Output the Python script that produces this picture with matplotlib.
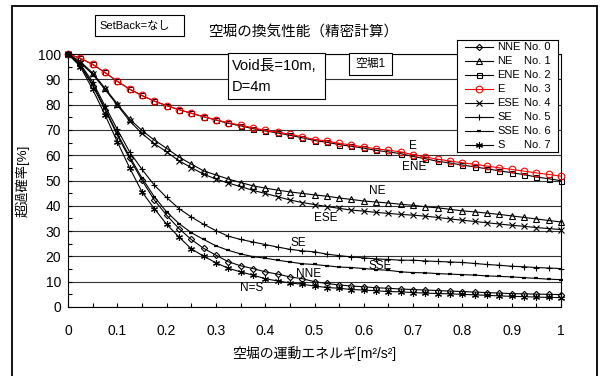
import matplotlib
matplotlib.use('Agg')
import matplotlib.pyplot as plt
from matplotlib.patches import Rectangle

plt.rcParams['font.family'] = ['Liberation Sans', 'Noto Sans CJK JP', 'DejaVu Sans']

# x values (kinetic energy of the void) and exceedance probability per direction
x = [0, 0.025, 0.05, 0.075, 0.1, 0.125, 0.15, 0.175, 0.2, 0.225, 0.25, 0.275, 0.3,
     0.325, 0.35, 0.375, 0.4, 0.425, 0.45, 0.475, 0.5, 0.525, 0.55, 0.575, 0.6,
     0.625, 0.65, 0.675, 0.7, 0.725, 0.75, 0.775, 0.8, 0.825, 0.85, 0.875, 0.9,
     0.925, 0.95, 0.975, 1.0]

nne = [100, 95.5, 87.5, 78.0, 67.9, 58.7, 50.1, 42.3, 36.3, 31.0, 26.7, 23.2, 20.5,
       17.9, 16.3, 15.2, 13.9, 13.0, 11.9, 11.2, 10.0, 9.3, 8.7, 8.3, 8.0, 7.6, 7.4,
       7.1, 6.9, 6.7, 6.5, 6.3, 6.1, 5.9, 5.7, 5.5, 5.3, 5.2, 5.1, 5.0, 4.9]
ne = [100, 97.0, 92.5, 86.5, 80.3, 74.3, 69.8, 66.0, 62.7, 59.3, 56.5, 53.8, 52.2,
      50.6, 49.2, 47.9, 47.0, 46.2, 45.5, 44.9, 44.3, 43.8, 43.1, 42.5, 41.9, 41.5,
      41.1, 40.6, 40.2, 39.6, 39.2, 38.6, 38.0, 37.6, 37.1, 36.6, 36.0, 35.4, 34.8,
      34.2, 33.6]
ene = [100, 98.3, 95.9, 92.7, 89.2, 86.1, 83.6, 81.4, 79.6, 78.0, 76.6, 75.2, 73.9,
       72.6, 71.6, 70.5, 69.6, 68.8, 67.9, 66.9, 65.8, 65.1, 64.2, 63.5, 62.8, 61.9,
       61.3, 60.6, 59.5, 58.6, 57.6, 56.9, 56.1, 55.4, 54.6, 53.8, 53.1, 52.3, 51.4,
       50.7, 49.9]
e = [100, 98.3, 95.9, 92.7, 89.2, 86.1, 83.6, 81.4, 79.6, 78.0, 76.6, 75.2, 74.0,
     72.8, 71.9, 70.8, 69.9, 69.1, 68.3, 67.3, 66.2, 65.6, 64.7, 64.0, 63.3, 62.5,
     62.0, 61.3, 60.2, 59.3, 58.4, 57.7, 57.0, 56.4, 55.7, 55.0, 54.4, 53.7, 53.0,
     52.4, 51.7]
ese = [100, 96.5, 92.0, 86.0, 79.8, 73.5, 68.6, 64.6, 61.3, 57.8, 55.1, 52.5, 50.6,
       49.0, 47.6, 46.1, 44.9, 43.6, 42.3, 41.3, 40.5, 39.7, 39.0, 38.3, 37.9, 37.4,
       37.0, 36.6, 36.3, 35.9, 35.4, 34.8, 34.3, 33.8, 33.3, 32.8, 32.3, 31.9, 31.4,
       31.0, 30.6]
se = [100, 96.0, 89.0, 79.5, 70.2, 61.3, 54.4, 48.2, 43.3, 38.9, 35.6, 32.7, 30.2,
      28.0, 26.7, 25.7, 24.7, 23.7, 22.8, 22.2, 21.8, 20.9, 20.3, 19.8, 19.4, 19.0,
      18.8, 18.5, 18.5, 18.2, 18.0, 17.8, 17.6, 17.2, 16.8, 16.5, 16.1, 15.9, 15.6,
      15.4, 15.2]
sse = [100, 95.5, 88.0, 78.5, 68.5, 59.5, 51.0, 43.6, 37.6, 33.0, 29.4, 26.7, 24.2,
       22.4, 21.0, 19.9, 19.3, 18.5, 17.8, 17.1, 16.8, 16.3, 15.8, 15.6, 15.2, 14.8,
       14.5, 13.9, 13.6, 13.5, 13.2, 13.0, 12.8, 12.6, 12.3, 12.1, 11.9, 11.6, 11.3,
       11.0, 10.8]
s = [100, 95.0, 86.0, 76.0, 65.3, 55.0, 45.5, 38.9, 32.7, 27.7, 23.0, 20.1, 17.5,
     15.3, 13.9, 12.6, 11.2, 10.3, 9.5, 9.0, 8.3, 7.7, 7.4, 6.9, 6.7, 6.4, 6.1, 6.0,
     5.7, 5.5, 5.3, 5.2, 5.0, 4.8, 4.6, 4.4, 4.2, 4.1, 3.9, 3.8, 3.7]

names = ['NNE', 'NE', 'ENE', 'E', 'ESE', 'SE', 'SSE', 'S']
series = [nne, ne, ene, e, ese, se, sse, s]

# marker styles per series (name -> style)
styles = {
    'NNE': dict(marker='D', ms=3.2, mfc='none', color='black'),
    'NE': dict(marker='^', ms=4, mfc='none', color='black'),
    'ENE': dict(marker='s', ms=3.6, mfc='none', color='black'),
    'E': dict(marker='o', ms=4.8, mfc='none', color='red'),
    'ESE': dict(marker='x', ms=4, color='black'),
    'SE': dict(marker='+', ms=5, color='black'),
    'SSE': dict(marker='_', ms=3, mew=1.6, color='black'),
    'S': dict(marker=(6, 2, 0), ms=5, color='black'),
}

# curve labels inside plot (name, x, y)
curve_labels = [('E', 0.699, 63.6), ('ENE', 0.703, 55.4), ('NE', 0.628, 45.9),
                ('ESE', 0.522, 35.0), ('SE', 0.468, 25.1), ('SSE', 0.634, 16.2),
                ('NNE', 0.488, 12.9), ('N=S', 0.372, 7.5)]

W, H = 601, 376
fig = plt.figure(figsize=(W / 100, H / 100), dpi=100)
fig.patch.set_facecolor('white')

def fx(px):
    return px / W

def fy(py):
    return 1 - py / H

ax = fig.add_axes([fx(68), fy(307), fx(561) - fx(68), fy(54) - fy(307)])

for name, vals in zip(names, series):
    st = dict(styles[name])
    ax.plot(x, vals, lw=0.8, mew=st.pop('mew', 0.8), clip_on=False, **st)

ax.set_xlim(0, 1)
ax.set_ylim(0, 100)
ax.set_xticks([0, 0.1, 0.2, 0.3, 0.4, 0.5, 0.6, 0.7, 0.8, 0.9, 1])
ax.set_xticklabels(['0', '0.1', '0.2', '0.3', '0.4', '0.5', '0.6', '0.7', '0.8', '0.9', '1'])
ax.set_xticks([0.05, 0.15, 0.25, 0.35, 0.45, 0.55, 0.65, 0.75, 0.85, 0.95], minor=True)
ax.set_yticks(range(0, 101, 10))
ax.set_yticks(range(5, 100, 10), minor=True)
ax.tick_params(axis='both', which='both', direction='in', length=3, width=0.8, labelsize=10)
ax.tick_params(axis='x', which='major', pad=12)
ax.tick_params(axis='y', which='major', pad=5)
ax.yaxis.grid(True, which='major', color='#333333', lw=0.8)
ax.set_axisbelow(True)
for sp in ax.spines.values():
    sp.set_linewidth(0.8)
    sp.set_color('black')

for lab, lx, ly in curve_labels:
    ax.text(lx, ly, lab, fontsize=8.5, ha='center', va='center')

ax.set_xlabel('空堀の運動エネルギ[m²/s²]', fontsize=10, labelpad=6)
fig.text(fx(22), fy(181), '超過確率[%]', rotation=90, fontsize=9.5, ha='center', va='center')
fig.text(fx(303), fy(32), '空堀の換気性能（精密計算）', fontsize=10.5, ha='center', va='center')

# outer chart frame
fig.add_artist(Rectangle((fx(12), -0.02), fx(597) - fx(12), fy(6) + 0.02,
                         transform=fig.transFigure, fill=False, ec='black', lw=1.3))

# annotation boxes
def box(x0, y0, x1, y1):
    fig.add_artist(Rectangle((fx(x0), fy(y1)), fx(x1) - fx(x0), fy(y0) - fy(y1),
                             transform=fig.transFigure, fc='white', ec='black', lw=0.8, zorder=3))

box(95, 15, 184, 36)
fig.text(fx(99), fy(26), 'SetBack=なし', fontsize=8, ha='left', va='center', zorder=4)
box(228, 53, 325, 99)
fig.text(fx(232), fy(66), 'Void長=10m,', fontsize=10.5, ha='left', va='center', zorder=4)
fig.text(fx(232), fy(87), 'D=4m', fontsize=10.5, ha='left', va='center', zorder=4)
box(349, 53, 392, 75)
fig.text(fx(370.5), fy(64), '空堀1', fontsize=8.5, ha='center', va='center', zorder=4)

# legend drawn in its own small axes
lax = fig.add_axes([fx(457), fy(152), fx(558) - fx(457), fy(40) - fy(152)])
lax.set_xlim(0, 1)
lax.set_ylim(8, 0)
lax.set_xticks([])
lax.set_yticks([])
for sp in lax.spines.values():
    sp.set_linewidth(0.8)
for i, name in enumerate(names):
    st = dict(styles[name])
    mew = st.pop('mew', 0.8)
    row = i + 0.5
    lax.plot([0.08, 0.36], [row, row], lw=0.8, color=st['color'])
    lax.plot([0.22], [row], ls='none', mew=mew, **st)
    lax.text(0.40, row, name, fontsize=8, ha='left', va='center')
    lax.text(0.93, row, 'No. %d' % i, fontsize=8, ha='right', va='center')

fig.savefig('out.png', dpi=100)
